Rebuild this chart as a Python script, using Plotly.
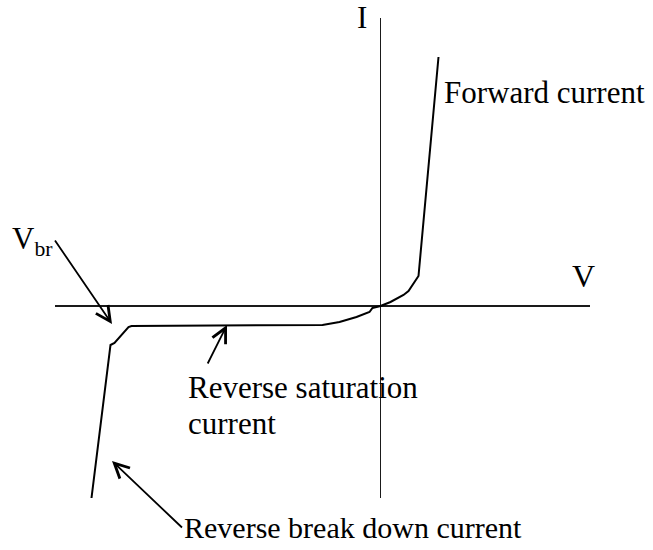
import plotly.graph_objects as go

# Diode I-V characteristic (arbitrary units)
voltage = [-28.9, -27.0, -26.6, -26.1, -25.6, -25.2, -24.9, -5.8, -4.1, -2.4,
           -1.1, -0.8, 0.0, 1.0, 2.3, 2.8, 3.8, 5.8]
current = [-19.2, -3.9, -3.7, -3.1, -2.5, -2.1, -2.0, -1.9, -1.6, -1.1,
           -0.6, -0.2, 0.0, 0.4, 1.1, 1.5, 3.0, 24.9]

x_range = [-32.55, 20.95]
y_range = [-19.2, 28.8]

# pointer arrows: tip (V, I) and tail (V, I)
vbr_tip, vbr_tail = (-26.85, -1.8), (-32.55, 6.55)
sat_tip, sat_tail = (-15.35, -1.9), (-17.58, -6.35)
brk_tip, brk_tail = (-26.85, -15.5), (-19.85, -22.15)

SERIF = "Liberation Serif, Times New Roman, serif"
ARROW = dict(showarrow=True, arrowhead=5, arrowsize=1.6, arrowwidth=1.8,
             arrowcolor="black", standoff=0, axref="x", ayref="y")

fig = go.Figure()
fig.add_trace(go.Scatter(x=voltage, y=current, mode="lines",
                         line=dict(color="black", width=2),
                         hoverinfo="skip", showlegend=False))

axis_common = dict(showgrid=False, showticklabels=False, ticks="",
                   zeroline=True, zerolinecolor="#1a1a1a", zerolinewidth=1.4,
                   showline=False, fixedrange=True)
fig.update_xaxes(range=x_range, **axis_common)
fig.update_yaxes(range=y_range, **axis_common)


def label(text, x, y, size, xanchor="left", yanchor="middle",
          xref="x", yref="y", **kw):
    d = dict(x=x, y=y, xref=xref, yref=yref, text=text, showarrow=False,
             xanchor=xanchor, yanchor=yanchor,
             font=dict(family=SERIF, size=size, color="black"))
    d.update(kw)
    return d


annotations = [
    label("Forward current", 6.15, 21.35, 31),
    label("Reverse saturation", -19.45, -8.15, 31),
    label("current", -19.45, -11.77, 31),
    label("I", -1.85, 1.0375, 31, xanchor="center", yanchor="top",
          yref="paper", borderpad=0, borderwidth=0),
    label("V", 20.25, 3.05, 32, xanchor="center"),
    # V_br label with its arrow
    dict(text="V<sub>br</sub>", x=vbr_tip[0], y=vbr_tip[1],
         ax=vbr_tail[0], ay=vbr_tail[1], xref="x", yref="y",
         xanchor="right", yanchor="middle",
         font=dict(family=SERIF, size=31, color="black"), **ARROW),
    # reverse saturation arrow
    dict(text="\u00a0", x=sat_tip[0], y=sat_tip[1],
         ax=sat_tail[0], ay=sat_tail[1], xref="x", yref="y",
         font=dict(family=SERIF, size=10, color="black"), **ARROW),
    # reverse breakdown label with its arrow
    dict(text="Reverse break down current", x=brk_tip[0], y=brk_tip[1],
         ax=brk_tail[0], ay=brk_tail[1], xref="x", yref="y",
         xanchor="left", yanchor="middle",
         font=dict(family=SERIF, size=30, color="black"), **ARROW),
]
fig.update_layout(annotations=annotations)

fig.update_layout(width=653, height=550,
                  margin=dict(l=55, r=63, t=18, b=52, pad=0),
                  paper_bgcolor="white", plot_bgcolor="white",
                  showlegend=False)

# remove the browser's default 8px body margin so the figure fills the window
fig.write_html("out.html",
               config={"displayModeBar": False, "staticPlot": True},
               post_script="document.body.style.margin='0';")
